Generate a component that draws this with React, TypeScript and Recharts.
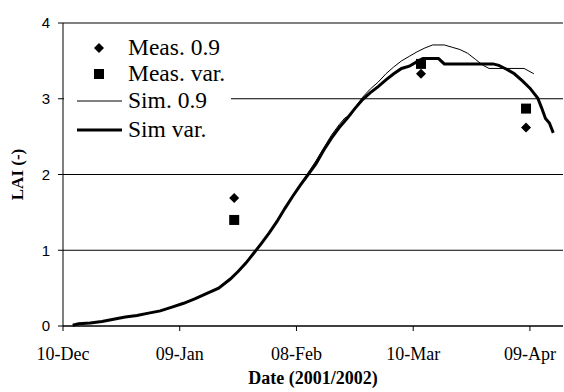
import React from 'react';
import {
  ComposedChart,
  Line,
  Scatter,
  XAxis,
  YAxis,
  CartesianGrid,
  ReferenceLine,
  Legend,
} from 'recharts';

// days since 10-Dec-2001
const tickDays = [0, 30, 60, 90, 120];
const tickLabels = ['10-Dec', '09-Jan', '08-Feb', '10-Mar', '09-Apr'];
const yTicks = [0, 1, 2, 3, 4];

const measDays = [44, 92, 119];
const meas09 = [1.69, 3.33, 2.62];
const measVar = [1.4, 3.46, 2.87];

const sim09Days = [2.5, 4, 7, 10, 13, 16, 19, 22, 25, 28, 31, 34, 37, 40, 43, 45, 47, 49, 51, 53, 55, 57, 59, 61,
  63, 65, 67, 69, 71, 72.5, 74, 75, 77, 79, 81, 83, 85, 87, 89, 91, 93, 95, 98, 100, 102, 104, 106, 108, 109.5, 118.5, 121];
const sim09 = [0.01, 0.03, 0.04, 0.06, 0.09, 0.12, 0.14, 0.17, 0.2, 0.25, 0.3, 0.36, 0.43, 0.5, 0.62, 0.72, 0.83, 0.96, 1.09, 1.23, 1.38, 1.55, 1.71, 1.86,
  2.02, 2.18, 2.35, 2.52, 2.66, 2.75, 2.78, 2.88, 3.02, 3.13, 3.22, 3.33, 3.42, 3.5, 3.56, 3.62, 3.67, 3.71, 3.71, 3.68, 3.65, 3.6, 3.52, 3.44, 3.4, 3.4, 3.33];

const simVarDays = [2.5, 4, 7, 10, 13, 16, 19, 22, 25, 28, 31, 34, 37, 40, 43, 45, 47, 49, 51, 53, 55, 57, 59, 61,
  63, 65, 67, 69, 71, 73, 75, 77, 79, 81, 83, 85, 87, 89, 91, 92.5, 96.5, 98, 110.5, 112, 114, 116, 118, 120, 122, 123, 124, 125, 126];
const simVar = [0.01, 0.03, 0.04, 0.06, 0.09, 0.12, 0.14, 0.17, 0.2, 0.25, 0.3, 0.36, 0.43, 0.5, 0.62, 0.72, 0.83, 0.96, 1.09, 1.23, 1.38, 1.55, 1.71, 1.86,
  2.0, 2.14, 2.32, 2.48, 2.62, 2.74, 2.87, 2.99, 3.08, 3.16, 3.25, 3.33, 3.4, 3.43, 3.49, 3.53, 3.53, 3.46, 3.46, 3.44, 3.39, 3.33, 3.24, 3.14, 3.01, 2.88, 2.74, 2.68, 2.55];

const pairs = (xs: number[], ys: number[]) => xs.map((day, i) => ({ day, v: ys[i] }));

const serif = '"Liberation Serif", "Times New Roman", serif';
const sans = '"Liberation Sans", Arial, sans-serif';

const Diamond = (p: any) => {
  const { cx, cy } = p;
  const r = 5;
  return <path d={`M${cx},${cy - r}L${cx + r},${cy}L${cx},${cy + r}L${cx - r},${cy}Z`} fill="#000" />;
};

const Square = (p: any) => {
  const { cx, cy } = p;
  return <rect x={cx - 5} y={cy - 5} width={10} height={10} fill="#000" />;
};

const legendRows = [
  { name: 'Meas. 0.9', icon: 'diamond', h: 27 },
  { name: 'Meas. var.', icon: 'square', h: 26 },
  { name: 'Sim. 0.9', icon: 'thin', h: 28 },
  { name: 'Sim var.', icon: 'thick', h: 30 },
];

const LegendBox = () => (
  <div style={{ background: '#fff', fontFamily: serif, fontSize: 23.5, color: '#000' }}>
    {legendRows.map((r) => (
      <div key={r.name} style={{ height: r.h, display: 'flex', alignItems: 'center' }}>
        <svg width={64} height={14} style={{ flex: 'none' }}>
          {r.icon === 'diamond' && <path d="M35,2L40,7L35,12L30,7Z" fill="#000" />}
          {r.icon === 'square' && <rect x={30} y={2} width={10} height={10} fill="#000" />}
          {r.icon === 'thin' && <line x1={13} x2={58} y1={7} y2={7} stroke="#000" strokeWidth={1} />}
          {r.icon === 'thick' && <line x1={13} x2={58} y1={7} y2={7} stroke="#000" strokeWidth={3} />}
        </svg>
        <span style={{ lineHeight: 1 }}>{r.name}</span>
      </div>
    ))}
  </div>
);

export default function App() {
  return (
    <div>
      <style>{'body{margin:0}'}</style>
      <ComposedChart width={564} height={392} margin={{ top: 23, right: 1, left: 0, bottom: 0 }}>
        <CartesianGrid vertical={false} stroke="#000" strokeWidth={1} />
        <XAxis
          type="number"
          dataKey="day"
          domain={[0, 128.5]}
          ticks={tickDays}
          tickFormatter={(d: number) => tickLabels[tickDays.indexOf(d)]}
          height={66}
          stroke="#000"
          tickSize={5}
          tickMargin={16}
          tick={{ fill: '#000', fontFamily: serif, fontSize: 18 }}
          label={{ value: 'Date (2001/2002)', position: 'insideBottom', offset: 8, fill: '#000', fontFamily: serif, fontSize: 18, fontWeight: 'bold' }}
          allowDataOverflow
        />
        <YAxis
          type="number"
          domain={[0, 4]}
          ticks={yTicks}
          width={63}
          stroke="#000"
          tickSize={5}
          tickMargin={8}
          tick={{ fill: '#000', fontFamily: sans, fontSize: 15 }}
          label={{ value: 'LAI (-)', angle: -90, position: 'insideLeft', offset: 17, textAnchor: 'middle', fill: '#000', fontFamily: serif, fontSize: 17, fontWeight: 'bold' }}
        />
        <ReferenceLine y={4} stroke="#808080" strokeWidth={2} />
        <Line data={pairs(sim09Days, sim09)} dataKey="v" name="Sim. 0.9" stroke="#000" strokeWidth={1} dot={false} type="linear" isAnimationActive={false} />
        <Line data={pairs(simVarDays, simVar)} dataKey="v" name="Sim var." stroke="#000" strokeWidth={3} dot={false} type="linear" isAnimationActive={false} />
        <Scatter data={pairs(measDays, meas09)} dataKey="v" name="Meas. 0.9" shape={Diamond} isAnimationActive={false} />
        <Scatter data={pairs(measDays, measVar)} dataKey="v" name="Meas. var." shape={Square} isAnimationActive={false} />
        <Legend
          layout="horizontal"
          verticalAlign="middle"
          align="center"
          content={() => <LegendBox />}
          wrapperStyle={{ top: 34, left: 64, width: 167, height: 111 }}
        />
      </ComposedChart>
    </div>
  );
}
